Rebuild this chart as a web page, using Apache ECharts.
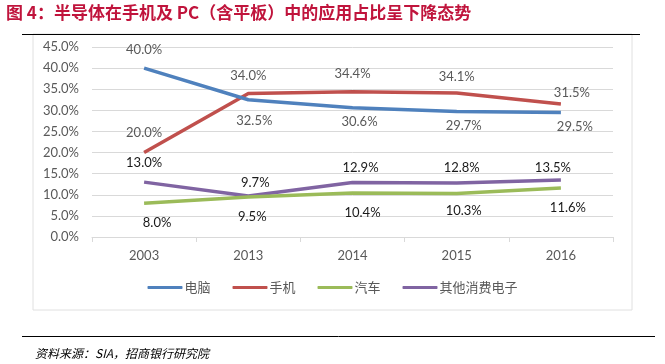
<!DOCTYPE html>
<html><head><meta charset="utf-8">
<script src="https://cdn.jsdelivr.net/npm/echarts@6/dist/echarts.min.js"></script>
<style>html,body{margin:0;padding:0;background:#fff}#c{width:665px;height:364px}</style>
</head><body><div id="c"></div>
<script>
var categories = ['2003', '2013', '2014', '2015', '2016'];
var seriesNames = ['电脑', '手机', '汽车', '其他消费电子'];
var pc = [40.0, 32.5, 30.6, 29.7, 29.5];
var phone = [20.0, 34.0, 34.4, 34.1, 31.5];
var auto = [8.0, 9.5, 10.4, 10.3, 11.6];
var otherCE = [13.0, 9.7, 12.9, 12.8, 13.5];
var yTicks = [0, 5, 10, 15, 20, 25, 30, 35, 40, 45];

var colors = ['#4F81BD', '#C0504D', '#9BBB59', '#8064A2'];
var labelColors = ['#595959', '#595959', '#1a1a1a', '#1a1a1a'];
var labelPos = [
  ['top', 'bottom', 'bottom', 'bottom', 'bottom'],
  ['top', 'top', 'top', 'top', 'top'],
  ['bottom', 'bottom', 'bottom', 'bottom', 'bottom'],
  ['top', 'top', 'top', 'top', 'top']
];
// per-point label offsets [dx, dy]
var labelOff = [
  [[0, -2], [6, 5], [7, -2], [7, -2], [14, -2]],
  [[0, -3], [0, -1], [0, -1], [0, 0], [11, 5]],
  [[13, 3], [4, 3], [10, 3], [7, 1], [7, 3]],
  [[0, -3], [7, 3], [8, 2], [5, 1], [-8, 4]]
];
var allData = [pc, phone, auto, otherCE];

var chart = echarts.init(document.getElementById('c'));
var series = allData.map(function (arr, si) {
  return {
    name: seriesNames[si],
    type: 'line',
    data: arr.map(function (v, i) {
      return { value: v, label: { position: labelPos[si][i], offset: labelOff[si][i] } };
    }),
    showSymbol: true,
    symbol: 'circle',
    symbolSize: 0,
    lineStyle: { width: 3.5, color: colors[si] },
    itemStyle: { color: colors[si] },
    label: {
      show: true,
      distance: 10,
      color: labelColors[si],
      fontSize: 13,
      fontFamily: 'Lato',
      formatter: function (p) { return p.value.toFixed(1) + '%'; }
    },
    z: 10 - si
  };
});

chart.setOption({
  animation: false,
  backgroundColor: '#fff',
  color: colors,
  grid: { left: 92, right: 52, top: 47, bottom: 127, containLabel: false },
  xAxis: {
    type: 'category',
    data: categories,
    boundaryGap: true,
    axisLine: { lineStyle: { color: '#d9d9d9' } },
    axisTick: { show: true, length: 5, lineStyle: { color: '#d9d9d9' } },
    axisLabel: { color: '#595959', fontSize: 13, fontFamily: 'Lato', margin: 12 }
  },
  yAxis: {
    type: 'value',
    min: yTicks[0],
    max: yTicks[yTicks.length - 1],
    interval: yTicks[1] - yTicks[0],
    axisLine: { show: false },
    axisTick: { show: false },
    splitLine: { lineStyle: { color: '#d9d9d9' } },
    axisLabel: { color: '#595959', fontSize: 13, fontFamily: 'Lato', margin: 13,
      formatter: function (v) { return v.toFixed(1) + '%'; } }
  },
  legend: {
    data: seriesNames,
    bottom: 65,
    left: 'center',
    itemWidth: 35,
    itemHeight: 3,
    itemGap: 22,
    icon: 'roundRect',
    textStyle: { color: '#595959', fontSize: 13, fontFamily: 'Noto Sans CJK SC', padding: [0, 0, 0, -3] }
  },
  series: series,
  graphic: [
    { type: 'text', left: 6, top: 4, style: { text: '图 4：半导体在手机及 PC（含平板）中的应用占比呈下降态势',
      fill: '#C0143C', font: 'bold 17px "Noto Sans CJK SC"' } },
    { type: 'rect', shape: { x: 33, y: 34, width: 599, height: 276 }, style: { fill: 'none', stroke: '#e0e0e0', lineWidth: 1 }, z: -1 },
    { type: 'line', shape: { x1: 22, y1: 34.5, x2: 640, y2: 34.5 }, style: { stroke: '#000', lineWidth: 1 } },
    { type: 'line', shape: { x1: 22, y1: 336.5, x2: 655, y2: 336.5 }, style: { stroke: '#000', lineWidth: 1 } },
    { type: 'text', left: 35, top: 347, style: { text: '资料来源：SIA，招商银行研究院',
      fill: '#000', font: 'italic 12px "Noto Sans CJK SC"' } }
  ]
});
</script></body></html>
